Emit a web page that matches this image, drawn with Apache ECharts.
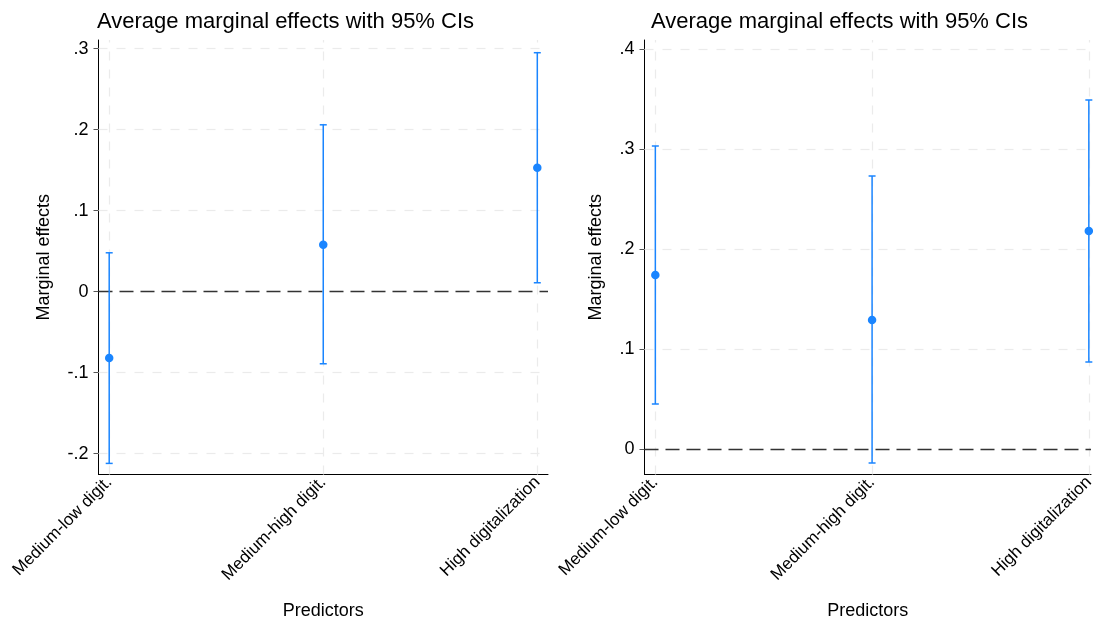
<!DOCTYPE html>
<html>
<head>
<meta charset="utf-8">
<script src="https://cdn.jsdelivr.net/npm/echarts@6/dist/echarts.min.js"></script>
<style>
  html, body { margin: 0; padding: 0; background: #fff; }
  #chart { width: 1093px; height: 621px; }
</style>
</head>
<body>
<div id="chart"></div>
<script>
// categories on the x axis (placed at 1, 2, 3)
var categories = ['Medium-low digit.', 'Medium-high digit.', 'High digitalization'];
var catPos = [1, 2, 3];

// left panel: estimate and 95% CI
var leftEst = [-0.082, 0.058, 0.153];
var leftLo = [-0.212, -0.089, 0.011];
var leftHi = [0.048, 0.206, 0.295];
var leftTicks = [-0.2, -0.1, 0, 0.1, 0.2, 0.3];

// right panel
var rightEst = [0.174, 0.129, 0.218];
var rightLo = [0.045, -0.014, 0.087];
var rightHi = [0.303, 0.273, 0.349];
var rightTicks = [0, 0.1, 0.2, 0.3, 0.4];

var blue = '#1a85ff';
var font = '"Liberation Sans", Arial, Helvetica, sans-serif';

function fmtTick(v) {
    if (Math.abs(v) < 1e-9) return '0';
    return (v < 0 ? '-' : '') + '.' + Math.round(Math.abs(v) * 10);
}

function xAxisFor(gridIndex, max) {
    return {
        type: 'value', gridIndex: gridIndex, min: 0.95, max: max,
        name: 'Predictors', nameLocation: 'middle', nameGap: 128,
        nameTextStyle: { fontSize: 18, color: '#000', fontFamily: font },
        axisLine: { show: true, onZero: false, lineStyle: { color: '#000', width: 1 } },
        axisTick: { show: false },
        splitLine: { show: false },
        axisLabel: {
            customValues: catPos, rotate: 45, margin: 5,
            fontSize: 17, color: '#000', fontFamily: font,
            formatter: function(v) { return categories[Math.round(v) - 1]; }
        }
    };
}

function yAxisFor(gridIndex, min, max, ticks, gap) {
    return {
        type: 'value', gridIndex: gridIndex, min: min, max: max,
        name: 'Marginal effects', nameLocation: 'middle', nameGap: gap,
        nameTextStyle: { fontSize: 18, color: '#000', fontFamily: font },
        axisLine: { show: true, lineStyle: { color: '#000', width: 1 } },
        axisTick: { show: true, customValues: ticks, length: 5, lineStyle: { color: '#555' } },
        splitLine: { show: false },
        axisLabel: {
            customValues: ticks, margin: 10,
            fontSize: 18, color: '#000', fontFamily: font,
            formatter: fmtTick
        }
    };
}

function guideLines(ticks) {
    var lines = [];
    ticks.forEach(function(v) {
        if (Math.abs(v) < 1e-9) return;
        lines.push({ yAxis: v, lineStyle: { color: '#ebebeb', type: [9, 9], width: 1.2 } });
    });
    catPos.forEach(function(p) {
        lines.push({ xAxis: p, lineStyle: { color: '#ebebeb', type: [9, 9], width: 1.2 } });
    });
    lines.push({ yAxis: 0, lineStyle: { color: '#333', type: [14, 7], width: 1.4 } });
    return lines;
}

function ciBars(lo, hi) {
    return catPos.map(function(p, i) { return [p, lo[i], hi[i]]; });
}

function renderCI(params, api) {
    var x = api.value(0);
    var a = api.coord([x, api.value(1)]);
    var b = api.coord([x, api.value(2)]);
    var st = { stroke: blue, lineWidth: 1.5 };
    var cap = 3.5;
    return {
        type: 'group',
        children: [
            { type: 'line', shape: { x1: a[0], y1: a[1], x2: b[0], y2: b[1] }, style: st },
            { type: 'line', shape: { x1: a[0] - cap, y1: a[1], x2: a[0] + cap, y2: a[1] }, style: st },
            { type: 'line', shape: { x1: b[0] - cap, y1: b[1], x2: b[0] + cap, y2: b[1] }, style: st }
        ]
    };
}

function panelSeries(idx, est, lo, hi, ticks) {
    var pts = catPos.map(function(p, i) { return [p, est[i]]; });
    return [
        {
            type: 'line', xAxisIndex: idx, yAxisIndex: idx, z: 1,
            data: [], showSymbol: false,
            markLine: { silent: true, z: 1, symbol: 'none', label: { show: false }, data: guideLines(ticks) }
        },
        {
            type: 'custom', xAxisIndex: idx, yAxisIndex: idx, z: 10,
            data: ciBars(lo, hi), renderItem: renderCI,
            encode: { x: 0, y: [1, 2] }
        },
        {
            type: 'scatter', xAxisIndex: idx, yAxisIndex: idx, z: 11,
            data: pts, symbolSize: 8.5, itemStyle: { color: blue, opacity: 1 }
        }
    ];
}

var chart = echarts.init(document.getElementById('chart'));
chart.setOption({
    animation: false,
    backgroundColor: '#fff',
    title: [
        { text: 'Average marginal effects with 95% CIs', left: 92, top: 6,
          textStyle: { fontSize: 22, fontWeight: 'normal', color: '#000', fontFamily: font } },
        { text: 'Average marginal effects with 95% CIs', left: 646, top: 6,
          textStyle: { fontSize: 22, fontWeight: 'normal', color: '#000', fontFamily: font } }
    ],
    grid: [
        { left: 98.5, top: 40, width: 449.5, height: 434.5, outerBoundsMode: 'none', containLabel: false },
        { left: 644.5, top: 40, width: 446.5, height: 434.5, outerBoundsMode: 'none', containLabel: false }
    ],
    xAxis: [xAxisFor(0, 3.05), xAxisFor(1, 3.01)],
    yAxis: [
        yAxisFor(0, -0.2257, 0.3107, leftTicks, 45),
        yAxisFor(1, -0.0255, 0.409, rightTicks, 39)
    ],
    series: panelSeries(0, leftEst, leftLo, leftHi, leftTicks)
        .concat(panelSeries(1, rightEst, rightLo, rightHi, rightTicks))
});
</script>
</body>
</html>
